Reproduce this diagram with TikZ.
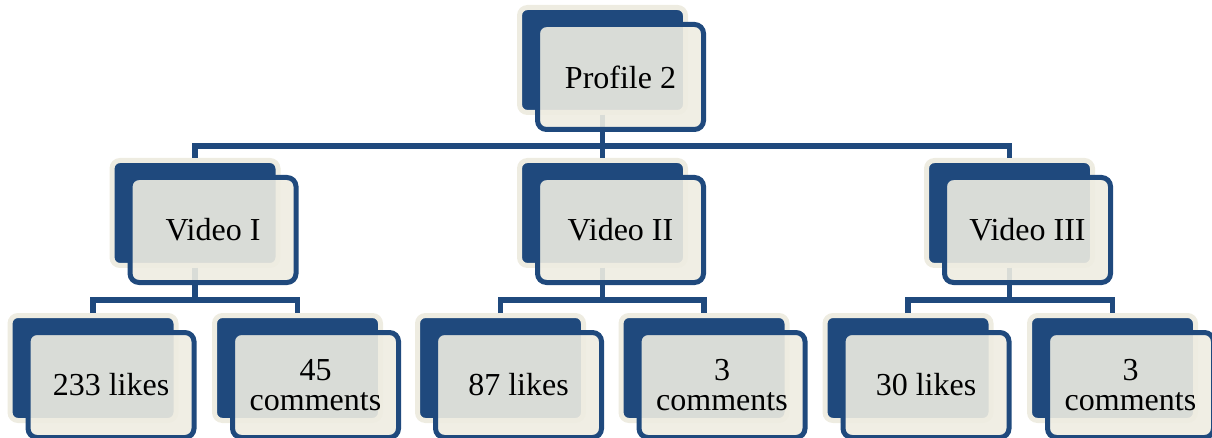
\documentclass[tikz,border=0pt]{standalone}
\usepackage{fontspec}
\setmainfont{Liberation Serif}
\usetikzlibrary{calc}
\definecolor{navy}{HTML}{1F497D}
\definecolor{cream}{HTML}{EEECE1}
\tikzset{
  backbox/.style={rectangle, rounded corners=8pt, minimum width=166pt, minimum height=105pt,
    line width=5pt, draw=cream, fill=navy, inner sep=0pt},
  frontbox/.style={rectangle, rounded corners=9pt, minimum width=166pt, minimum height=105pt,
    line width=5pt, draw=navy, fill=cream, fill opacity=0.9, text opacity=1, inner sep=0pt,
    align=center, font=\fontsize{32}{30}\selectfont},
  conn/.style={draw=navy, line width=5.5pt}
}
\begin{document}
\begin{tikzpicture}[x=1pt,y=-1pt]
\useasboundingbox (0,0) rectangle (1212,438);
% back layer of every card, so connectors can start at their edges
\node[backbox] (rootB) at (602.5,60) {};
\node[backbox] (v1B) at (195,213) {};
\node[backbox] (v2B) at (602.5,213) {};
\node[backbox] (v3B) at (1009.5,213) {};
\node[backbox] (a1B) at (93,368) {};
\node[backbox] (a2B) at (297.5,368) {};
\node[backbox] (b1B) at (500.5,368) {};
\node[backbox] (b2B) at (704,368) {};
\node[backbox] (c1B) at (908,368) {};
\node[backbox] (c2B) at (1112.5,368) {};
% junction points on the bars
\path (rootB.south) ++(0,31) coordinate (rootJ);
\path (v1B.south) ++(0,32) coordinate (v1J);
\path (v2B.south) ++(0,32) coordinate (v2J);
\path (v3B.south) ++(0,32) coordinate (v3J);
% connectors
\draw[conn] (rootB.south) -- (v2B.north);
\draw[conn] (v1B.north) |- (v3B.north |- rootJ) -- (v3B.north);
\draw[conn] (v1B.south) -- (v1J);
\draw[conn] (a1B.north) |- (a2B.north |- v1J) -- (a2B.north);
\draw[conn] (v2B.south) -- (v2J);
\draw[conn] (b1B.north) |- (b2B.north |- v2J) -- (b2B.north);
\draw[conn] (v3B.south) -- (v3J);
\draw[conn] (c1B.north) |- (c2B.north |- v3J) -- (c2B.north);
% front layer with the labels
\node[frontbox] (rootF) at ($(rootB)+(18,17)$) {Profile 2};
\node[frontbox] (v1F) at ($(v1B)+(18,17)$) {Video I};
\node[frontbox] (v2F) at ($(v2B)+(18,17)$) {Video II};
\node[frontbox] (v3F) at ($(v3B)+(18,17)$) {Video III};
\node[frontbox] (a1F) at ($(a1B)+(18,17)$) {233 likes};
\node[frontbox] (a2F) at ($(a2B)+(18,17)$) {45\\comments};
\node[frontbox] (b1F) at ($(b1B)+(18,17)$) {87 likes};
\node[frontbox] (b2F) at ($(b2B)+(18,17)$) {3\\comments};
\node[frontbox] (c1F) at ($(c1B)+(18,17)$) {30 likes};
\node[frontbox] (c2F) at ($(c2B)+(18,17)$) {3\\comments};
\end{tikzpicture}
\end{document}
